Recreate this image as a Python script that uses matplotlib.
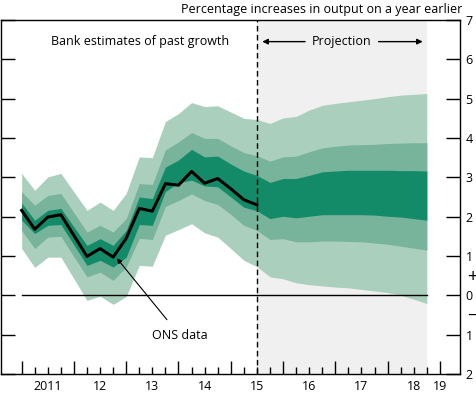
import numpy as np
import matplotlib
matplotlib.use('Agg')
import matplotlib.pyplot as plt

plt.rcParams['font.family'] = ['Open Sans', 'DejaVu Sans']

# quarters, 0 = 2011 Q1
quarters = np.arange(32)

# ONS data (to 2015 Q3)
ons = [2.16, 1.68, 1.99, 2.05, 1.52, 0.99, 1.19, 0.97, 1.45,
       2.21, 2.14, 2.84, 2.80, 3.15, 2.85, 2.97, 2.71, 2.43, 2.30]

# fan edges
light_top = [3.10, 2.67, 3.01, 3.10, 2.63, 2.16, 2.37, 2.16, 2.59,
             3.52, 3.50, 4.42, 4.62, 4.90, 4.80, 4.82, 4.66, 4.50,
             4.47, 4.37, 4.51, 4.55, 4.71, 4.83, 4.88, 4.92, 4.96, 5.00, 5.05, 5.09, 5.11, 5.13]
mid_top = [2.63, 2.29, 2.54, 2.59, 2.10, 1.61, 1.78, 1.61, 1.95,
           2.84, 2.82, 3.70, 3.90, 4.14, 3.99, 3.99, 3.80, 3.63,
           3.55, 3.41, 3.52, 3.54, 3.65, 3.75, 3.79, 3.82, 3.83, 3.84, 3.86, 3.87, 3.88, 3.88]
dark_top = [2.35, 1.91, 2.16, 2.21, 1.74, 1.27, 1.44, 1.27, 1.65,
            2.50, 2.46, 3.26, 3.44, 3.71, 3.52, 3.54, 3.34, 3.16,
            3.05, 2.87, 2.97, 2.97, 3.05, 3.14, 3.16, 3.18, 3.18, 3.18, 3.18, 3.17, 3.17, 3.16]
dark_bot = [1.91, 1.57, 1.78, 1.80, 1.28, 0.76, 0.89, 0.72, 0.97,
            1.80, 1.78, 2.64, 2.86, 2.93, 2.78, 2.76, 2.50, 2.24,
            2.15, 1.95, 2.01, 1.97, 2.01, 2.05, 2.05, 2.05, 2.05, 2.04, 2.01, 1.99, 1.95, 1.91]
mid_bot = [1.65, 1.19, 1.48, 1.50, 0.98, 0.47, 0.59, 0.38, 0.72,
           1.45, 1.42, 2.26, 2.41, 2.58, 2.41, 2.31, 2.06, 1.78,
           1.65, 1.42, 1.44, 1.36, 1.36, 1.38, 1.38, 1.37, 1.36, 1.33, 1.30, 1.25, 1.20, 1.15]
light_bot = [1.19, 0.71, 0.97, 0.97, 0.42, -0.13, -0.02, -0.23, -0.03,
             0.76, 0.74, 1.53, 1.67, 1.82, 1.59, 1.48, 1.19, 0.89,
             0.73, 0.47, 0.42, 0.32, 0.27, 0.24, 0.21, 0.19, 0.15, 0.11, 0.07, 0.0, -0.10, -0.21]

year_labels = ['2011', '12', '13', '14', '15', '16', '17', '18', '19']
year_label_pos = [2, 6, 10, 14, 18, 22, 26, 30, 32]
y_labels = ['7', '6', '5', '4', '3', '2', '1', '0', '1', '2']
y_vals = [7, 6, 5, 4, 3, 2, 1, 0, -1, -2]

proj_start = 18
proj_end = 31

fig = plt.figure(figsize=(4.77, 3.96), dpi=100)
ax = fig.add_axes([1/477, 22/396, 459/477, 354/396])

# projection shading
ax.axvspan(proj_start, proj_end, color='#f0f0f0', lw=0, zorder=0)

ax.fill_between(quarters, light_bot, light_top, color='#abcfbd', lw=0, zorder=1)
ax.fill_between(quarters, mid_bot, mid_top, color='#78b39b', lw=0, zorder=2)
ax.fill_between(quarters, dark_bot, dark_top, color='#148b68', lw=0, zorder=3)

ax.plot([0, proj_end], [0, 0], color='black', lw=1, zorder=4)
ax.plot(quarters[:len(ons)], ons, color='black', lw=2.2, zorder=5)
ax.axvline(proj_start, color='black', lw=1, ls=(0, (4, 2.5)), zorder=6)

ax.set_xlim(-1.58, 33.54)
ax.set_ylim(-2, 7)

ax.set_xticks(np.arange(0, 33, 4))
ax.set_xticks(np.arange(0, 33), minor=True)
ax.set_xticklabels([])
ax.tick_params(axis='x', which='major', direction='in', length=9.5, width=1, top=False)
ax.tick_params(axis='x', which='minor', direction='in', length=5, width=1, top=False)
for p, lab in zip(year_label_pos, year_labels):
    ax.text(p, -0.035, lab, transform=ax.get_xaxis_transform(),
            ha='center', va='center', fontsize=9)

ax.set_yticks(y_vals)
ax.set_yticklabels(y_labels)
ax.tick_params(axis='y', direction='in', length=10, width=1, left=True, right=True,
               labelleft=False, labelright=True, pad=4, labelsize=9)
fig.text(472/477, 1 - 277/396, '+', ha='center', va='center', fontsize=13)
fig.text(472/477, 1 - 316/396, '\u2212', ha='center', va='center', fontsize=13)

for s in ax.spines.values():
    s.set_linewidth(1)

fig.text(462/477, 1 - 9/396, 'Percentage increases in output on a year earlier',
         ha='right', va='center', fontsize=9)

ax.text(15.9, 6.45, 'Bank estimates of past growth', ha='right', va='center', fontsize=9)
ax.text(24.5, 6.45, 'Projection', ha='center', va='center', fontsize=9, zorder=7)
ax.annotate('', xy=(18.2, 6.45), xytext=(21.9, 6.45),
            arrowprops=dict(arrowstyle='-|>', color='black', lw=1, mutation_scale=8))
ax.annotate('', xy=(30.9, 6.45), xytext=(27.1, 6.45),
            arrowprops=dict(arrowstyle='-|>', color='black', lw=1, mutation_scale=8))

ax.annotate('ONS data', xy=(7.29, 0.94), xytext=(12.1, -1.02),
            ha='center', va='center', fontsize=9, zorder=8,
            arrowprops=dict(arrowstyle='-|>', color='black', lw=0.8, mutation_scale=7,
                            shrinkA=6, shrinkB=0))

fig.savefig('out.png', dpi=100)
